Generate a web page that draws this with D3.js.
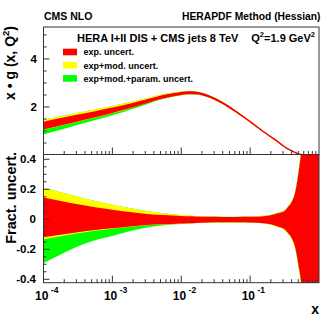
<!DOCTYPE html>
<html><head><meta charset="utf-8">
<script src="https://cdn.jsdelivr.net/npm/d3@7"></script>
<style>
html,body{margin:0;padding:0;background:#fff;}
text{font-family:"Liberation Sans",Arial,Helvetica,sans-serif;font-weight:bold;fill:#000;}
</style></head>
<body>
<svg id="c" width="332" height="332"></svg>
<script>
// ---- data ----
const xValues = [1e-4,1.778e-4,3.162e-4,5.623e-4,1e-3,1.778e-3,3.162e-3,5.623e-3,1e-2,1.259e-2,1.585e-2,2.512e-2,3.981e-2,6.310e-2,0.1,0.1585,0.1995,0.2512,0.3162,0.3548,0.3981,0.4467,0.5012,0.5623,0.6310,0.7943,1.0];
// central x*g(x,Q^2)
const xgCentral = [1.21,1.37,1.53,1.69,1.86,2.04,2.24,2.44,2.57,2.6,2.59,2.45,2.17,1.8,1.39,0.96,0.76,0.56,0.34,0.25,0.18,0.11,0.05,0.02,0.005,0,0];
// fractional uncertainties
const expUp  = [0.145,0.122,0.100,0.080,0.063,0.048,0.036,0.028,0.022,0.020,0.019,0.017,0.016,0.016,0.017,0.021,0.027,0.040,0.056,0.082,0.112,0.170,0.300,0.50,0.90,2.0,3.0];
const expDn  = [-0.120,-0.103,-0.087,-0.072,-0.060,-0.048,-0.038,-0.033,-0.028,-0.026,-0.024,-0.021,-0.020,-0.020,-0.021,-0.026,-0.033,-0.048,-0.066,-0.092,-0.122,-0.180,-0.300,-0.46,-0.80,-1.5,-2.0];
const modUp  = [0.210,0.180,0.150,0.122,0.097,0.075,0.056,0.040,0.029,0.025,0.022,0.018,0.017,0.017,0.018,0.023,0.030,0.044,0.061,0.087,0.118,0.178,0.312,0.52,0.93,2.05,3.05];
const modDn  = [-0.133,-0.113,-0.093,-0.077,-0.063,-0.050,-0.039,-0.034,-0.029,-0.027,-0.025,-0.022,-0.021,-0.021,-0.022,-0.028,-0.036,-0.052,-0.071,-0.097,-0.128,-0.188,-0.312,-0.48,-0.83,-1.55,-2.05];
const parDn  = [-0.293,-0.235,-0.180,-0.140,-0.112,-0.080,-0.055,-0.040,-0.031,-0.028,-0.026,-0.022,-0.021,-0.021,-0.022,-0.028,-0.036,-0.052,-0.071,-0.097,-0.128,-0.188,-0.312,-0.48,-0.83,-1.55,-2.05];
const xTickLabels = ["-4","-3","-2","-1"];
const yTopTicks = [2,4];
const yBotTicks = [-0.4,-0.2,0,0.2,0.4];
const yBotTickLabels = ["-0.4","-0.2","0","0.2","0.4"];
const legendLabels = ["exp. uncert.","exp+mod. uncert.","exp+mod.+param. uncert."];
const legendColors = ["#ff0000","#ffff00","#00ff00"];

const pts = xValues.map((x,i)=>({x, c:xgCentral[i], eu:expUp[i], ed:expDn[i], mu:modUp[i], md:modDn[i], pd:parDn[i]}));

const svg = d3.select("#c");
const L=43.5, R=319, T1=27, B1=154.5, B2=282.7;
const x = d3.scaleLog().domain([1e-4,1]).range([L,R]);
const yT = d3.scaleLinear().domain([0,5.33]).range([155,27]);
const yB = d3.scaleLinear().domain([-0.4227,0.432]).range([B2,B1]);

const defs = svg.append("defs");
defs.append("clipPath").attr("id","cpT").append("rect").attr("x",L).attr("y",T1).attr("width",R-L).attr("height",B1-T1);
defs.append("clipPath").attr("id","cpB").append("rect").attr("x",L).attr("y",B1).attr("width",R-L).attr("height",B2-B1);

const curve = d3.curveMonotoneX;
function band(y, lo, hi){ return d3.area().x(d=>x(d.x)).y0(d=>y(lo(d))).y1(d=>y(hi(d))).curve(curve); }

// top panel
const gT = svg.append("g").attr("clip-path","url(#cpT)");
gT.append("path").datum(pts).attr("fill","#00ff00").attr("d",band(yT,d=>d.c*(1+d.pd),d=>d.c*(1+d.mu)));
gT.append("path").datum(pts).attr("fill","#ffff00").attr("d",band(yT,d=>d.c*(1+d.md),d=>d.c*(1+d.mu)));
gT.append("path").datum(pts).attr("fill","#ff0000").attr("d",band(yT,d=>d.c*(1+d.ed),d=>d.c*(1+d.eu)));
gT.append("path").datum(pts).attr("fill","none").attr("stroke","#ff0000").attr("stroke-width",1.3)
  .attr("d",d3.line().x(d=>x(d.x)).y(d=>yT(d.c)).curve(curve));

// bottom panel
const gB = svg.append("g").attr("clip-path","url(#cpB)");
gB.append("path").datum(pts).attr("fill","#00ff00").attr("d",band(yB,d=>d.pd,d=>d.mu));
gB.append("path").datum(pts).attr("fill","#ffff00").attr("d",band(yB,d=>d.md,d=>d.mu));
gB.append("path").datum(pts).attr("fill","#ff0000").attr("d",band(yB,d=>d.ed,d=>d.eu));

// frames
const fc="#333";
svg.append("rect").attr("x",L).attr("y",T1).attr("width",R-L).attr("height",B1-T1).attr("fill","none").attr("stroke",fc).attr("stroke-width",1);
svg.append("rect").attr("x",L).attr("y",B1).attr("width",R-L).attr("height",B2-B1).attr("fill","none").attr("stroke",fc).attr("stroke-width",1);

// x ticks (inward, pointing up) on both panels
const decades=[1e-4,1e-3,1e-2,1e-1];
const minors=[];
decades.forEach(d=>{for(let k=2;k<=9;k++) minors.push(d*k);});
[B1,B2].forEach(yb=>{
  const g=svg.append("g");
  g.selectAll("line.M").data(decades.slice(1)).join("line").attr("x1",d=>x(d)).attr("x2",d=>x(d)).attr("y1",yb).attr("y2",yb-7).attr("stroke",fc);
  g.selectAll("line.m").data(minors).join("line").attr("x1",d=>x(d)).attr("x2",d=>x(d)).attr("y1",yb).attr("y2",yb-3.5).attr("stroke",fc);
});
// y ticks top
const gyt=svg.append("g");
gyt.selectAll("line").data(d3.range(0.5,5.01,0.5)).join("line").attr("x1",L).attr("x2",d=>L+(d%2===0?6:3)).attr("y1",d=>yT(d)).attr("y2",d=>yT(d)).attr("stroke",fc);
gyt.selectAll("text").data(yTopTicks).join("text").attr("x",37).attr("y",d=>yT(d)+4).attr("text-anchor","end").attr("font-size",11.5).text(d=>d);
// y ticks bottom
const gyb=svg.append("g");
const bMin=d3.range(-0.4,0.4001,0.05).map(v=>Math.round(v*100)/100);
gyb.selectAll("line").data(bMin).join("line").attr("x1",L).attr("x2",d=>L+(Math.abs(Math.round(d*100))%20===0?6:3)).attr("y1",d=>yB(d)).attr("y2",d=>yB(d)).attr("stroke",fc);
gyb.selectAll("text").data(yBotTicks).join("text").attr("x",36).attr("y",d=>yB(d)+4).attr("text-anchor","end").attr("font-size",11.5).text((d,i)=>yBotTickLabels[i]);

// x tick labels
const gxl=svg.append("g");
decades.forEach((d,i)=>{
  const t=gxl.append("text").attr("x",x(d)-8.5).attr("y",300).attr("font-size",12);
  t.append("tspan").text("10");
  t.append("tspan").attr("font-size",8.5).attr("dx",2.5).attr("dy",-7.5).text(xTickLabels[i]);
});
svg.append("text").attr("x",319).attr("y",313.5).attr("text-anchor","end").attr("font-size",14).text("x");

// y titles
const yt1=svg.append("text").attr("transform","translate(15,26) rotate(-90)").attr("text-anchor","end").attr("font-size",14);
yt1.append("tspan").text("x \u2022 g (x, Q");
yt1.append("tspan").attr("font-size",9.5).attr("dy",-6).text("2");
yt1.append("tspan").attr("dy",6).text(")");
svg.append("text").attr("transform","translate(16,152) rotate(-90)").attr("text-anchor","end").attr("font-size",14.5).text("Fract. uncert.");

// header
svg.append("text").attr("x",44).attr("y",20).attr("font-size",10.5).text("CMS NLO");
svg.append("text").attr("x",320.5).attr("y",20).attr("text-anchor","end").attr("font-size",10.3).text("HERAPDF Method (Hessian)");
svg.append("text").attr("x",77).attr("y",42).attr("font-size",11).text("HERA I+II DIS + CMS jets 8 TeV");
const q=svg.append("text").attr("x",315).attr("y",42).attr("text-anchor","end").attr("font-size",11);
q.append("tspan").text("Q");
q.append("tspan").attr("font-size",7.5).attr("dy",-5).text("2");
q.append("tspan").attr("dy",5).text("=1.9 GeV");
q.append("tspan").attr("font-size",7.5).attr("dy",-5).text("2");

// legend
const lg=svg.append("g");
legendLabels.forEach((lab,i)=>{
  const yc=52+i*13.2;
  lg.append("rect").attr("x",63).attr("y",yc-3.3).attr("width",14).attr("height",6.6).attr("fill",legendColors[i]);
  lg.append("text").attr("x",83.5).attr("y",yc+3.3).attr("font-size",9).text(lab);
});
</script>
</body></html>
